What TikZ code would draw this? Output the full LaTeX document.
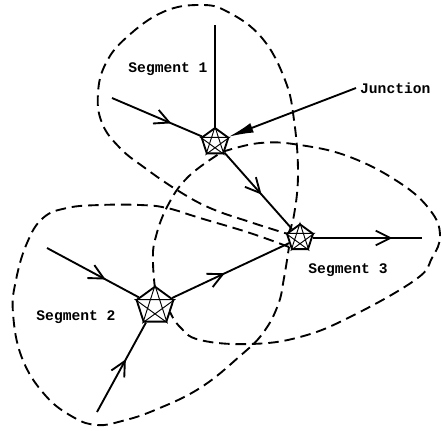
\documentclass[tikz,border=0pt]{standalone}
\usepackage{fontspec}
\setmonofont{Liberation Mono}
\usetikzlibrary{arrows.meta, shapes.geometric, decorations.markings}

\begin{document}
\begin{tikzpicture}[
    x=0.3mm, y=-0.3mm,
    hub/.style={regular polygon, regular polygon sides=5, draw, fill=white,
                line width=1.6pt, minimum size=#1, inner sep=0pt},
    link/.style={line width=1.6pt},
    flow/.style={link, postaction={decorate},
                 decoration={markings, mark=at position #1 with
                   {\arrow{Straight Barb[length=4.4mm,width=4.4mm]}}}},
    flow/.default=0.55,
    region/.style={line width=1.6pt, dash pattern=on 9pt off 5pt},
    segname/.style={font=\ttfamily\bfseries\fontsize{12.5}{14}\selectfont},
  ]
  \useasboundingbox (0,0) rectangle (442,430);

  % segment outlines
  \draw[region] plot[smooth, tension=0.7] coordinates {(288,234) (294,215) (298,173)
    (294,120) (285,80) (262,38) (228,12) (200,5) (163,12) (127,37) (106,63) (98,93)
    (102,123) (120,148) (145,168) (177,190) (210,208) (250,222) (288,234)};
  \draw[region] plot[smooth, tension=0.7] coordinates {(222,152) (260,143) (300,145)
    (350,157) (400,183) (430,210) (440,235) (432,258) (415,280) (350,317) (300,337)
    (250,344) (200,340) (180,327) (170,312)};
  \draw[region] plot[smooth, tension=0.7] coordinates {(155,289) (153,262) (155,240)
    (167,207) (188,177) (222,152)};
  \draw[region] plot[smooth, tension=0.7] coordinates {(289,247) (250,233) (200,218)
    (167,208) (140,205) (100,205) (67,208) (43,218) (27,243) (16,280) (13,313)
    (22,358) (45,395) (73,417) (97,425) (122,421) (155,410) (200,388) (240,356)
    (263,333) (278,305) (284,278) (289,247)};

  % junctions
  \node[hub=8.4mm] (hub1) at (215,142) {};
  \node[hub=8.2mm] (hub3) at (300,238) {};
  \node[hub=11.6mm] (hub2) at (155,306) {};
  \foreach \h in {hub1,hub2,hub3}
    \draw[line width=0.8pt] (\h.corner 1) -- (\h.corner 3) -- (\h.corner 5)
      -- (\h.corner 2) -- (\h.corner 4) -- cycle;

  % free ends
  \coordinate (top1) at (215,25);
  \coordinate (in1) at (112,98);
  \coordinate (out3) at (422,238);
  \coordinate (in2a) at (47,248);
  \coordinate (in2b) at (97,412);

  % links
  \draw[link] (hub1) -- (top1);
  \draw[flow=0.66] (in1) -- (hub1);
  \draw[flow=0.55] (hub1) -- (hub3);
  \draw[flow=0.73] (hub3) -- (out3);
  \draw[flow=0.45] (hub2) -- (hub3);
  \draw[flow=0.64] (in2a) -- (hub2);
  \draw[flow=0.59] (in2b) -- (hub2);

  % labels
  \node[segname] (seg1) at (168,69) {Segment 1};
  \node[segname] (seg2) at (76,317) {Segment 2};
  \node[segname] (seg3) at (348,270) {Segment 3};
  \node[segname, anchor=west] (jtext) at (356,88) {Junction};
  \draw[link, -{Latex[length=7.5mm,width=3mm]}] (jtext.west) -- (hub1);
\end{tikzpicture}
\end{document}
